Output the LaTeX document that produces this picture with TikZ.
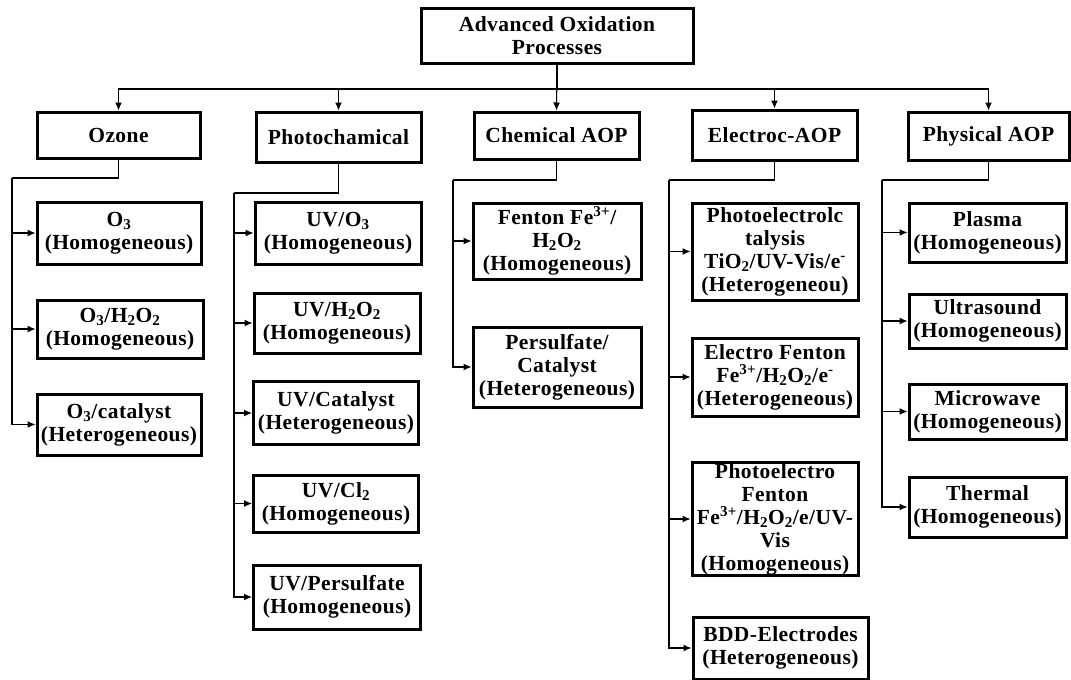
\documentclass[tikz,border=0pt]{standalone}
\usepackage{fontspec}
\newfontfamily\boxfont{Liberation Serif}[LetterSpace=2]
\usetikzlibrary{arrows.meta}
\tikzset{
  aopbox/.style={draw, line width=3pt, align=center, inner sep=1pt,
    font=\fontsize{21.5}{23}\selectfont\boxfont\bfseries},
}
\begin{document}
\begin{tikzpicture}[x=1pt,y=-1pt]
      \useasboundingbox (0,0) rectangle (1071,680);
      % top and first level
      \node[aopbox, minimum width=272, minimum height=55] (aop) at (557,35.5) {Advanced Oxidation\\Processes};
      \node[aopbox, minimum width=163, minimum height=46] (ozone) at (118.5,135) {Ozone};
      \node[aopbox, minimum width=165, minimum height=50] (photo) at (338.5,137) {Photochamical};
      \node[aopbox, minimum width=165, minimum height=47] (chem) at (556.5,135.5) {Chemical AOP};
      \node[aopbox, minimum width=165, minimum height=50] (elec) at (774.5,135) {Electroc-AOP};
      \node[aopbox, minimum width=161, minimum height=48] (phys) at (988.5,136) {Physical AOP};
      % ozone
      \node[aopbox, minimum width=164, minimum height=62] (o3) at (119,233) {O\textsubscript{3}\\(Homogeneous)};
      \node[aopbox, minimum width=166, minimum height=58] (o3h2o2) at (120,329) {O\textsubscript{3}/H\textsubscript{2}O\textsubscript{2}\\(Homogeneous)};
      \node[aopbox, minimum width=164, minimum height=61] (o3cat) at (119,424.5) {O\textsubscript{3}/catalyst\\(Heterogeneous)};
      % photochamical
      \node[aopbox, minimum width=166, minimum height=62] (uvo3) at (338,233) {UV/O\textsubscript{3}\\(Homogeneous)};
      \node[aopbox, minimum width=166, minimum height=60] (uvh2o2) at (337,323) {UV/H\textsubscript{2}O\textsubscript{2}\\(Homogeneous)};
      \node[aopbox, minimum width=165, minimum height=63] (uvcat) at (336,413) {UV/Catalyst\\(Heterogeneous)};
      \node[aopbox, minimum width=165, minimum height=57] (uvcl2) at (336,503.5) {UV/Cl\textsubscript{2}\\(Homogeneous)};
      \node[aopbox, minimum width=167, minimum height=64] (uvpers) at (337,597) {UV/Persulfate\\(Homogeneous)};
      % chemical
      \node[aopbox, minimum width=168, minimum height=76] (fenton) at (557,241) {Fenton Fe\textsuperscript{3+}/\\H\textsubscript{2}O\textsubscript{2}\\(Homogeneous)};
      \node[aopbox, minimum width=168, minimum height=80] (perscat) at (557,367) {Persulfate/\\Catalyst\\(Heterogeneous)};
      % electro
      \node[aopbox, minimum width=166, minimum height=97] (pec) at (775,251.5) {Photoelectrolc\\talysis\\TiO\textsubscript{2}/UV-Vis/e\textsuperscript{-}\\(Heterogeneou)};
      \node[aopbox, minimum width=166, minimum height=78] (ef) at (775,377) {Electro Fenton\\Fe\textsuperscript{3+}/H\textsubscript{2}O\textsubscript{2}/e\textsuperscript{-}\\(Heterogeneous)};
      \node[aopbox, minimum width=166, minimum height=112] (pef) at (775,519) {Photoelectro\\Fenton\\Fe\textsuperscript{3+}/H\textsubscript{2}O\textsubscript{2}/e/UV-\\Vis\\(Homogeneous)};
      \node[aopbox, minimum width=175, minimum height=62] (bdd) at (780.5,648) {BDD-Electrodes\\(Heterogeneous)};
      % physical
      \node[aopbox, minimum width=157, minimum height=59] (plasma) at (987.5,232.5) {Plasma\\(Homogeneous)};
      \node[aopbox, minimum width=157, minimum height=54] (ultra) at (987.5,321) {Ultrasound\\(Homogeneous)};
      \node[aopbox, minimum width=157, minimum height=55] (micro) at (987.5,411.5) {Microwave\\(Homogeneous)};
      \node[aopbox, minimum width=157, minimum height=60] (thermal) at (987.5,507) {Thermal\\(Homogeneous)};
      \coordinate (topbus) at (557,89);
      \coordinate (ozbus) at (12,178);
      \coordinate (photobus) at (234,193);
      \coordinate (chembus) at (453,180);
      \coordinate (elecbus) at (669,180);
      \coordinate (physbus) at (882,180);
      \begin{scope}[-{Latex[length=8pt,width=7pt]}, line width=1.1pt]
        \draw (aop.south) -- (topbus) -| (ozone.north);
        \draw (aop.south) -- (topbus) -| (photo.north);
        \draw (aop.south) -- (chem.north);
        \draw (aop.south) -- (topbus) -| (elec.north);
        \draw (aop.south) -- (topbus) -| (phys.north);
        \draw[-] (ozone.south) |- (ozbus);
        \draw (ozbus) |- (o3.west);
        \draw (ozbus) |- (o3h2o2.west);
        \draw (ozbus) |- (o3cat.west);
        \draw[-] (photo.south) |- (photobus);
        \draw (photobus) |- (uvo3.west);
        \draw (photobus) |- (uvh2o2.west);
        \draw (photobus) |- (uvcat.west);
        \draw (photobus) |- (uvcl2.west);
        \draw (photobus) |- (uvpers.west);
        \draw[-] (chem.south) |- (chembus);
        \draw (chembus) |- (fenton.west);
        \draw (chembus) |- (perscat.west);
        \draw[-] (elec.south) |- (elecbus);
        \draw (elecbus) |- (pec.west);
        \draw (elecbus) |- (ef.west);
        \draw (elecbus) |- (pef.west);
        \draw (elecbus) |- (bdd.west);
        \draw[-] (phys.south) |- (physbus);
        \draw (physbus) |- (plasma.west);
        \draw (physbus) |- (ultra.west);
        \draw (physbus) |- (micro.west);
        \draw (physbus) |- (thermal.west);
      \end{scope}
    \end{tikzpicture}
\end{document}
